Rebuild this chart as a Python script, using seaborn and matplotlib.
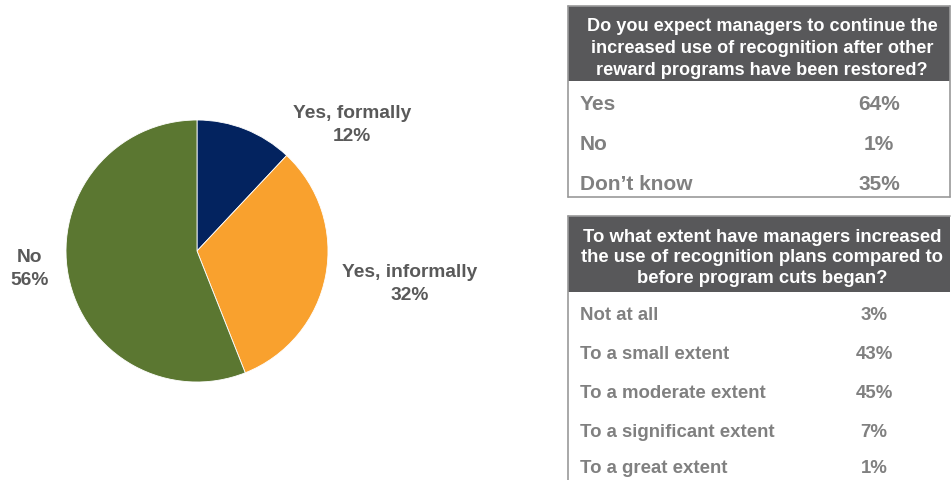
import matplotlib
matplotlib.use("Agg")
import matplotlib.pyplot as plt
from matplotlib.patches import Rectangle
from matplotlib.lines import Line2D
import seaborn as sns

# ---- data ----
pie_labels = ["Yes, formally", "Yes, informally", "No"]
pie_values = [12, 32, 56]
pie_colors = ["#03235F", "#F9A12E", "#5B7731"]

q1_title = "Do you expect managers to continue the\nincreased use of recognition after other\nreward programs have been restored?"
q1_answers = ["Yes", "No", "Don\u2019t know"]
q1_values = ["64%", "1%", "35%"]

q2_title = "To what extent have managers increased\nthe use of recognition plans compared to\nbefore program cuts began?"
q2_answers = ["Not at all", "To a small extent", "To a moderate extent",
              "To a significant extent", "To a great extent"]
q2_values = ["3%", "43%", "45%", "7%", "1%"]

sns.set_theme(style="white")
plt.rcParams['font.family'] = ['Liberation Sans', 'DejaVu Sans']

W, H = 953, 481
fig = plt.figure(figsize=(W / 100, H / 100), dpi=100)
fig.patch.set_facecolor("white")

def fx(x):
    return x / W

def fy(y):
    return 1 - y / H

# ---- pie ----
cx, cy, r = 197, 252, 131
ax = fig.add_axes([fx(cx - r), fy(cy + r), 2 * r / W, 2 * r / H])
ax.pie(pie_values, colors=pie_colors, startangle=90, counterclock=False,
       radius=1, wedgeprops=dict(linewidth=0.6, edgecolor="white"))
ax.set_xlim(-1, 1)
ax.set_ylim(-1, 1)
ax.set_aspect("equal")
ax.axis("off")

label_gray = "#595959"
label_pos = [(352, 125), (410, 284), (30, 269)]
for lab, val, (px, py) in zip(pie_labels, pie_values, label_pos):
    ax.text((px - cx) / r, (cy - py) / r, f"{lab}\n{val}%", ha="center", va="center",
            fontsize=13.8, fontweight="bold", color=label_gray, clip_on=False,
            linespacing=1.45)

# ---- tables ----
hdr_gray = "#58585A"
row_gray = "#808080"
border = "#9A9A9A"

def draw_table(x0, x1, top, hdr_bottom, bottom, title, answers, values, rows_y,
               val_x, hdr_fs, row_fs, hdr_ls, hdr_dy, closed):
    fig.patches.append(Rectangle((fx(x0), fy(hdr_bottom)), fx(x1 - x0), (hdr_bottom - top) / H,
                                 transform=fig.transFigure, facecolor=hdr_gray,
                                 edgecolor="none", zorder=1))
    lw = 1.2
    fig.lines.append(Line2D([fx(x0), fx(x1)], [fy(top), fy(top)], color=border, lw=lw,
                            transform=fig.transFigure))
    fig.lines.append(Line2D([fx(x0), fx(x0)], [fy(top), fy(bottom)], color=border, lw=lw,
                            transform=fig.transFigure))
    if closed:
        fig.lines.append(Line2D([fx(x1), fx(x1)], [fy(top), fy(bottom)], color=border, lw=lw,
                                transform=fig.transFigure))
        fig.lines.append(Line2D([fx(x0), fx(x1)], [fy(bottom), fy(bottom)], color=border, lw=lw,
                                transform=fig.transFigure))
    fig.text(fx((x0 + x1) / 2 + 3), fy((top + hdr_bottom) / 2 + hdr_dy), title, ha="center",
             va="center", color="white", fontsize=hdr_fs, fontweight="bold",
             linespacing=hdr_ls, zorder=3)
    for a, v, y in zip(answers, values, rows_y):
        fig.text(fx(580), fy(y + 2), a, ha="left", va="center", color=row_gray,
                 fontsize=row_fs, fontweight="bold")
        fig.text(fx(val_x), fy(y + 2), v, ha="center", va="center", color=row_gray,
                 fontsize=row_fs, fontweight="bold")

draw_table(568, 950, 7, 82, 198, q1_title, q1_answers, q1_values, [103, 143, 182],
           879, 13.1, 15, 1.4, 4, True)
draw_table(568, 950, 217, 293, 481, q2_title, q2_answers, q2_values,
           [314, 353, 392, 431, 467], 874, 13.3, 13.4, 1.3, 3, False)

fig.savefig("out.png", dpi=100, facecolor="white")
